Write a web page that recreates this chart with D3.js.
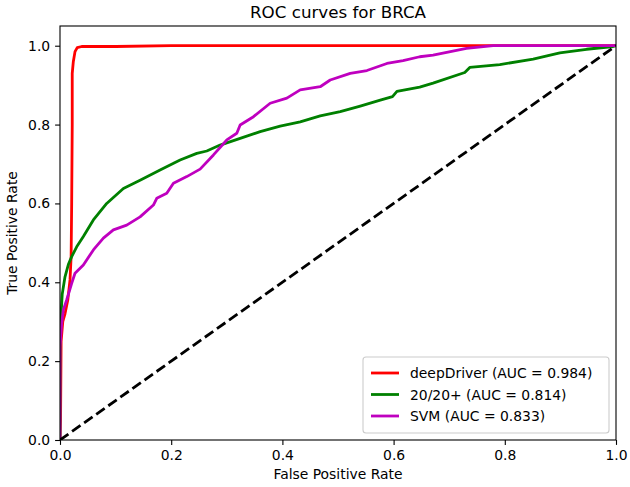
<!DOCTYPE html>
<html>
<head>
<meta charset="utf-8">
<script src="https://cdn.jsdelivr.net/npm/d3@7"></script>
<style>
  html, body { margin: 0; padding: 0; background: #fff; }
  svg { display: block; font-family: "DejaVu Sans", sans-serif; }
</style>
</head>
<body>
<svg id="chart" width="630" height="487"></svg>
<script>
// ---- data ----
const title = "ROC curves for BRCA";
const xLabel = "False Positive Rate";
const yLabel = "True Positive Rate";
const tickValues = [0, 0.2, 0.4, 0.6, 0.8, 1.0];
const tickLabels = ["0.0", "0.2", "0.4", "0.6", "0.8", "1.0"];

const seriesNames = ["deepDriver (AUC = 0.984)", "20/20+ (AUC = 0.814)", "SVM (AUC = 0.833)"];
const seriesColors = ["#ff0000", "#008000", "#bf00bf"];

const deepDriverFpr = [0, 0.001, 0.002, 0.005, 0.009, 0.014, 0.018, 0.020, 0.021, 0.022, 0.022, 0.024, 0.027, 0.031, 0.039, 0.1, 0.2, 1.0];
const deepDriverTpr = [0, 0.05, 0.25, 0.30, 0.32, 0.355, 0.406, 0.465, 0.6, 0.8, 0.93, 0.96, 0.985, 0.995, 0.998, 0.998, 1.0, 1.0];

const tt20Fpr = [0, 0, 0.001, 0.004, 0.009, 0.015, 0.021, 0.03, 0.042, 0.06, 0.084, 0.114, 0.144, 0.18, 0.216, 0.246, 0.264, 0.288, 0.324, 0.36, 0.396, 0.432, 0.468, 0.504, 0.54, 0.576, 0.598, 0.606, 0.647, 0.671, 0.728, 0.737, 0.791, 0.851, 0.899, 0.947, 0.995, 1.0];
const tt20Tpr = [0, 0.25, 0.297, 0.37, 0.414, 0.445, 0.465, 0.49, 0.516, 0.558, 0.6, 0.638, 0.659, 0.685, 0.71, 0.727, 0.733, 0.748, 0.765, 0.782, 0.796, 0.807, 0.822, 0.833, 0.847, 0.862, 0.871, 0.884, 0.895, 0.905, 0.932, 0.945, 0.952, 0.966, 0.982, 0.991, 0.998, 1.0];

const svmFpr = [0, 0, 0.003, 0.006, 0.012, 0.021, 0.027, 0.042, 0.06, 0.078, 0.096, 0.12, 0.144, 0.168, 0.174, 0.192, 0.204, 0.228, 0.252, 0.276, 0.3, 0.318, 0.324, 0.348, 0.378, 0.408, 0.432, 0.468, 0.486, 0.522, 0.552, 0.588, 0.617, 0.647, 0.671, 0.731, 0.779, 1.0];
const svmTpr = [0, 0.237, 0.296, 0.33, 0.355, 0.397, 0.423, 0.444, 0.482, 0.512, 0.533, 0.545, 0.566, 0.596, 0.613, 0.626, 0.651, 0.668, 0.687, 0.723, 0.761, 0.778, 0.799, 0.82, 0.854, 0.867, 0.888, 0.896, 0.913, 0.93, 0.937, 0.955, 0.962, 0.972, 0.976, 0.993, 1.0, 1.0];

const chanceFpr = [0, 1];
const chanceTpr = [0, 1];

// ---- layout ----
const mLeft = 60, mRight = 616, mTop = 26, mBottom = 440;
const svg = d3.select("#chart");
const x = d3.scaleLinear().domain([0, 1]).range([mLeft, mRight]);
const y = d3.scaleLinear().domain([0, 1.05]).range([mBottom, mTop]);
const fs = 13.9;

svg.append("clipPath").attr("id", "clip").append("rect")
  .attr("x", mLeft).attr("y", mTop).attr("width", mRight - mLeft).attr("height", mBottom - mTop);

const line = d3.line().x(d => x(d[0])).y(d => y(d[1]));
const zip = (a, b) => a.map((v, i) => [v, b[i]]);

const curves = [
  zip(deepDriverFpr, deepDriverTpr),
  zip(tt20Fpr, tt20Tpr),
  zip(svmFpr, svmTpr)
];

const lines = svg.append("g").attr("clip-path", "url(#clip)");
curves.forEach((c, i) => {
  lines.append("path").datum(c)
    .attr("d", line)
    .attr("fill", "none")
    .attr("stroke", seriesColors[i])
    .attr("stroke-width", 2.8)
    .attr("stroke-linejoin", "round")
    .attr("stroke-linecap", "square");
});
lines.append("path").datum(zip(chanceFpr, chanceTpr))
  .attr("d", line)
  .attr("fill", "none")
  .attr("stroke", "#000")
  .attr("stroke-width", 2.8)
  .attr("stroke-dasharray", "10.3,4.5");

// axes
const xAxis = d3.axisBottom(x).tickValues(tickValues).tickFormat((d, i) => tickLabels[i]).tickSize(4.9).tickPadding(4.9);
const yAxis = d3.axisLeft(y).tickValues(tickValues).tickFormat((d, i) => tickLabels[i]).tickSize(4.9).tickPadding(4.9);
const gx = svg.append("g").attr("transform", `translate(0,${mBottom})`).call(xAxis);
const gy = svg.append("g").attr("transform", `translate(${mLeft},0)`).call(yAxis);
[gx, gy].forEach(g => {
  g.select(".domain").remove();
  g.selectAll(".tick line").attr("stroke", "#000").attr("stroke-width", 1.1);
  g.selectAll(".tick text").attr("font-size", fs).attr("fill", "#000")
    .attr("font-family", "DejaVu Sans");
});
svg.append("rect").attr("x", mLeft).attr("y", mTop)
  .attr("width", mRight - mLeft).attr("height", mBottom - mTop)
  .attr("fill", "none").attr("stroke", "#000").attr("stroke-width", 1.1);

// title & labels
svg.append("text").attr("x", (mLeft + mRight) / 2).attr("y", 18)
  .attr("text-anchor", "middle").attr("font-size", 16.7).text(title);
svg.append("text").attr("x", (mLeft + mRight) / 2).attr("y", 479)
  .attr("text-anchor", "middle").attr("font-size", fs).text(xLabel);
svg.append("text").attr("transform", `translate(17,${(mTop + mBottom) / 2}) rotate(-90)`)
  .attr("text-anchor", "middle").attr("font-size", fs).text(yLabel);

// legend
const lg = svg.append("g");
const lgLeft = 363, lgRight = 609, lgTop = 357, lgBottom = 433;
lg.append("rect").attr("x", lgLeft).attr("y", lgTop)
  .attr("width", lgRight - lgLeft).attr("height", lgBottom - lgTop)
  .attr("rx", 3).attr("fill", "#fff").attr("fill-opacity", 0.8)
  .attr("stroke", "#cccccc").attr("stroke-width", 1.1);
const rowY = [373, 394.5, 416];
seriesNames.forEach((name, i) => {
  lg.append("line").attr("x1", 371).attr("x2", 399)
    .attr("y1", rowY[i]).attr("y2", rowY[i])
    .attr("stroke", seriesColors[i]).attr("stroke-width", 2.8);
  lg.append("text").attr("x", 410).attr("y", rowY[i])
    .attr("dy", "0.36em").attr("font-size", fs).text(name);
});
</script>
</body>
</html>
